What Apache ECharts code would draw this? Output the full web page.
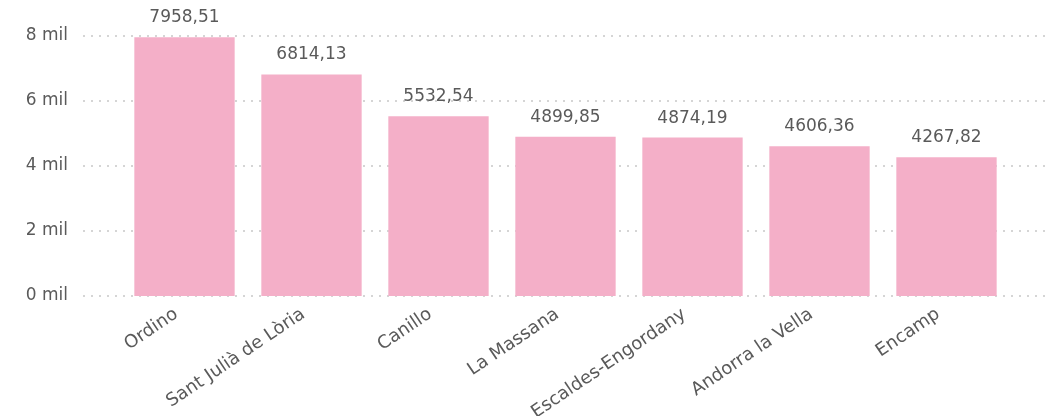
<!DOCTYPE html>
<html>
<head>
<meta charset="utf-8">
<script src="https://cdn.jsdelivr.net/npm/echarts@6/dist/echarts.min.js"></script>
<style>
  html, body { margin: 0; padding: 0; background: #fff; }
  #chart { width: 1051px; height: 416px; }
</style>
</head>
<body>
<div id="chart"></div>
<script>
const parishes = ["Ordino", "Sant Julià de Lòria", "Canillo", "La Massana", "Escaldes-Engordany", "Andorra la Vella", "Encamp"];
const values = [7958.51, 6814.13, 5532.54, 4899.85, 4874.19, 4606.36, 4267.82];
const yTicks = [0, 2000, 4000, 6000, 8000];

const font = "'DejaVu Sans', sans-serif";
const yMax = yTicks[yTicks.length - 1];
const yStep = yTicks[1] - yTicks[0];

function formatValue(v) {
  return v.toFixed(2).replace(".", ",");
}

const chart = echarts.init(document.getElementById("chart"));
chart.setOption({
  animation: false,
  grid: [
    { left: 83, right: 6, top: 36, bottom: 120, outerBoundsMode: "none", containLabel: false },
    { left: 121, right: 41, top: 36, bottom: 120, outerBoundsMode: "none", containLabel: false },
  ],
  xAxis: [
    { gridIndex: 0, type: "value", show: false, min: 0, max: 1 },
    {
      gridIndex: 1,
      type: "category",
      data: parishes,
      axisLine: { show: false },
      axisTick: { show: false },
      axisLabel: {
        rotate: 34,
        margin: 11,
        padding: [0, 10, 0, 0],
        fontSize: 18,
        color: "#5a5a5a",
        fontFamily: font,
      },
    },
  ],
  yAxis: [
    {
      gridIndex: 0,
      type: "value",
      min: 0,
      max: yMax,
      interval: yStep,
      axisLine: { show: false },
      axisTick: { show: false },
      axisLabel: {
        margin: 15,
        fontSize: 17,
        color: "#5a5a5a",
        fontFamily: font,
        formatter: v => `${v / 1000} mil`,
      },
      splitLine: { lineStyle: { color: "#c8c8c8", width: 1.5, type: [2, 6] } },
    },
    { gridIndex: 1, type: "value", show: false, min: 0, max: yMax, interval: yStep },
  ],
  series: [
    {
      type: "bar",
      xAxisIndex: 1,
      yAxisIndex: 1,
      data: values,
      barCategoryGap: "21%",
      itemStyle: { color: "#F4AFC8" },
      label: {
        show: true,
        position: "top",
        distance: 11,
        fontSize: 17,
        color: "#5a5a5a",
        fontFamily: font,
        formatter: p => formatValue(p.value),
      },
    },
  ],
});
</script>
</body>
</html>
